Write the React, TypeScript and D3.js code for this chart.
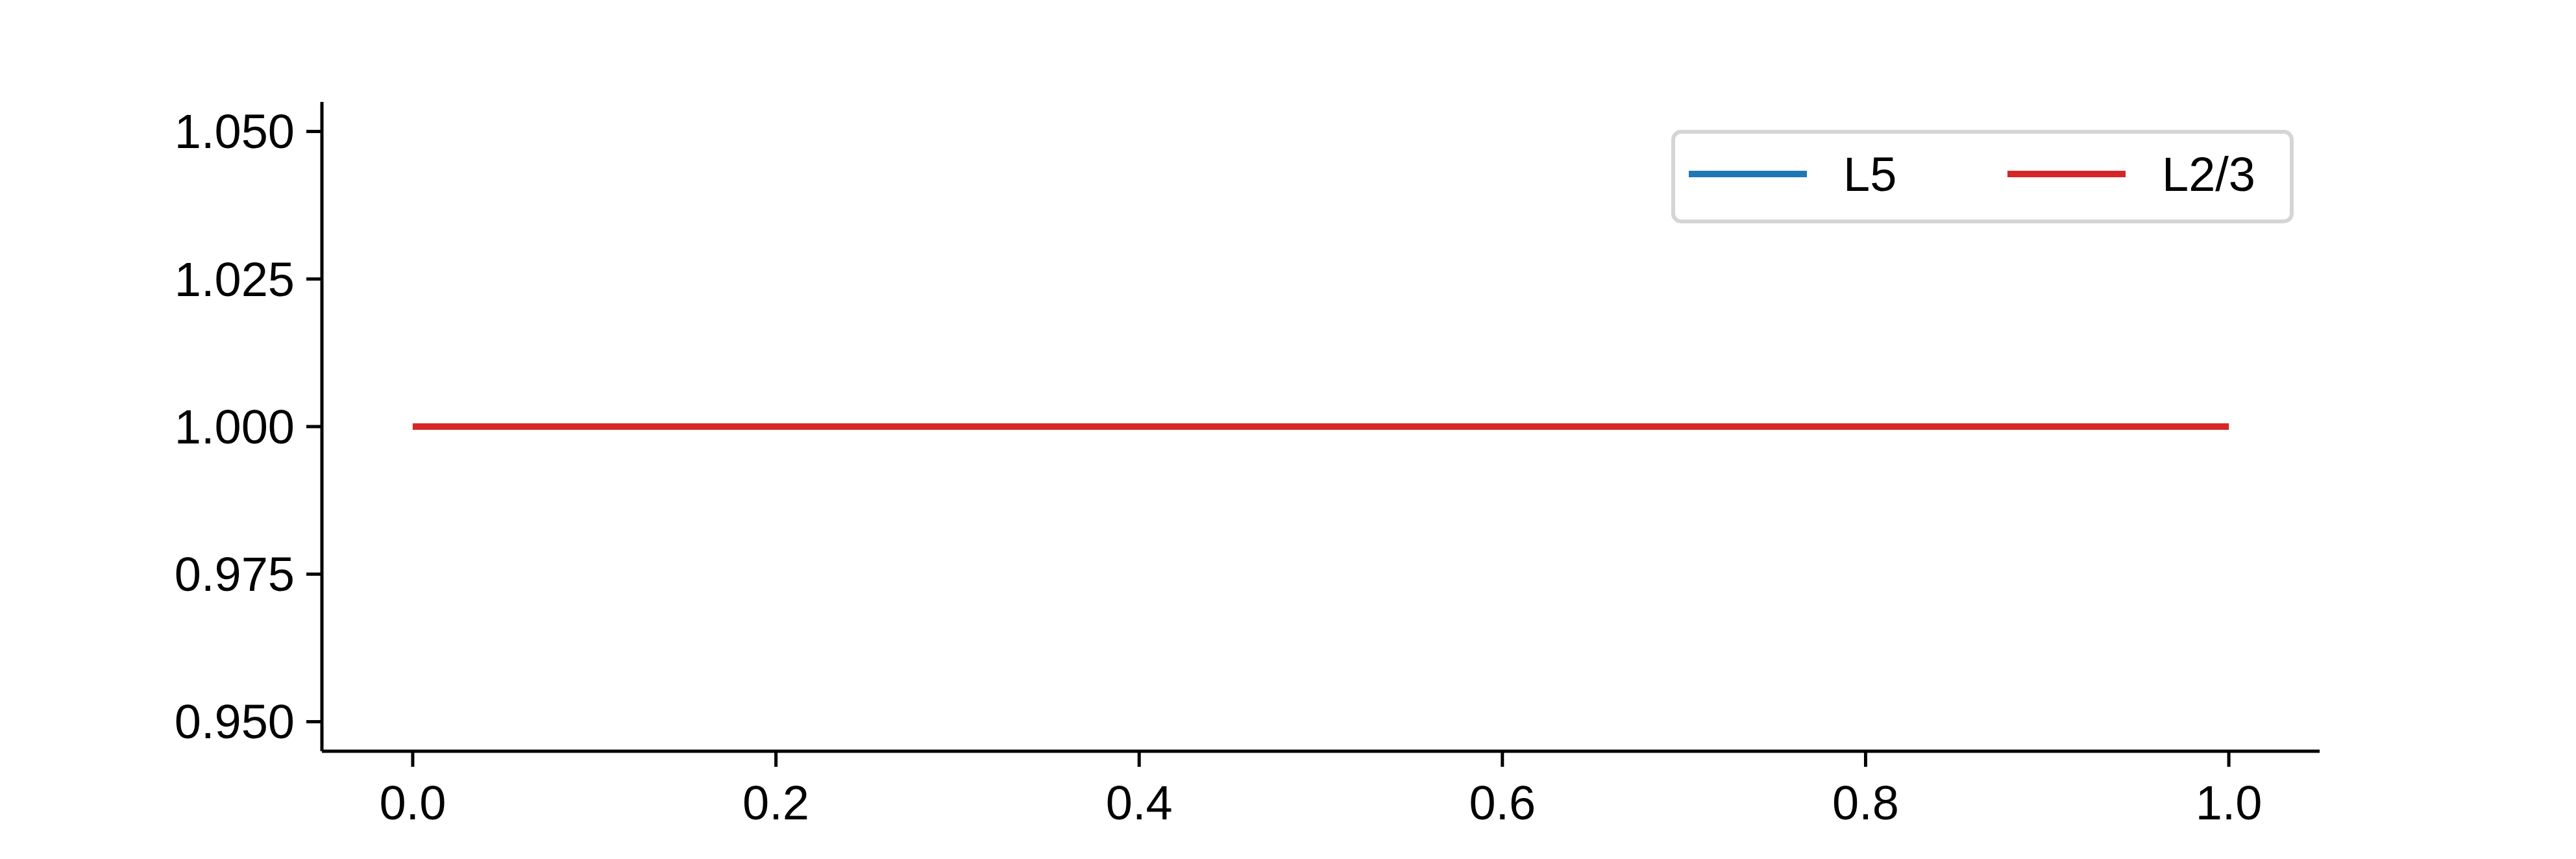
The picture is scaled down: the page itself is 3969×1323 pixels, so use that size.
import * as d3 from "d3";

const xs = [0, 1];
const l5 = [1, 1];
const l23 = [1, 1];
const xTicks = [0, 0.2, 0.4, 0.6, 0.8, 1.0];
const yTicks = [0.95, 0.975, 1.0, 1.025, 1.05];
const series = [
  { label: "L5", values: l5, color: "#1f77b4" },
  { label: "L2/3", values: l23, color: "#d62728" },
];

export default function App() {
  const W = 3969;
  const H = 1323;
  const left = 496, right = 3574, top = 157, bottom = 1157;
  const x = d3.scaleLinear().domain([-0.05, 1.05]).range([left, right]);
  const y = d3.scaleLinear().domain([0.945, 1.055]).range([bottom, top]);
  const line = d3.line<number>().x((_, i) => x(xs[i])).y(d => y(d));
  const font = "Arial, 'Liberation Sans', sans-serif";
  const fs = 74;
  const tick = 24;

  return (
    <svg width={W} height={H} style={{ position: "absolute", left: 0, top: 0 }} fontFamily={font}>
      <rect width={W} height={H} fill="#fff" />
      {series.map(s => (
        <path key={s.label} d={line(s.values) ?? ""} fill="none" stroke={s.color} strokeWidth={10} />
      ))}
      <line x1={left} x2={left} y1={top} y2={bottom} stroke="#000" strokeWidth={5} />
      <line x1={left} x2={right} y1={bottom} y2={bottom} stroke="#000" strokeWidth={5} />
      {yTicks.map(t => (
        <g key={t}>
          <line x1={left - tick} x2={left} y1={y(t)} y2={y(t)} stroke="#000" strokeWidth={5} />
          <text x={left - tick - 18} y={y(t)} dy="0.35em" textAnchor="end" fontSize={fs}>
            {t.toFixed(3)}
          </text>
        </g>
      ))}
      {xTicks.map(t => (
        <g key={t}>
          <line x1={x(t)} x2={x(t)} y1={bottom} y2={bottom + tick} stroke="#000" strokeWidth={5} />
          <text x={x(t)} y={bottom + tick + 22} dy="0.8em" textAnchor="middle" fontSize={fs}>
            {t.toFixed(1)}
          </text>
        </g>
      ))}
      <rect x={2578} y={203} width={953} height={138} rx={12} fill="#fff" fillOpacity={0.8} stroke="#d5d5d5" strokeWidth={6} />
      {series.map((s, i) => {
        const lx = 2602 + i * 491;
        return (
          <g key={s.label}>
            <line x1={lx} x2={lx + 182} y1={268} y2={268} stroke={s.color} strokeWidth={10} />
            <text x={lx + 238} y={268} dy="0.35em" fontSize={fs}>
              {s.label}
            </text>
          </g>
        );
      })}
    </svg>
  );
}
